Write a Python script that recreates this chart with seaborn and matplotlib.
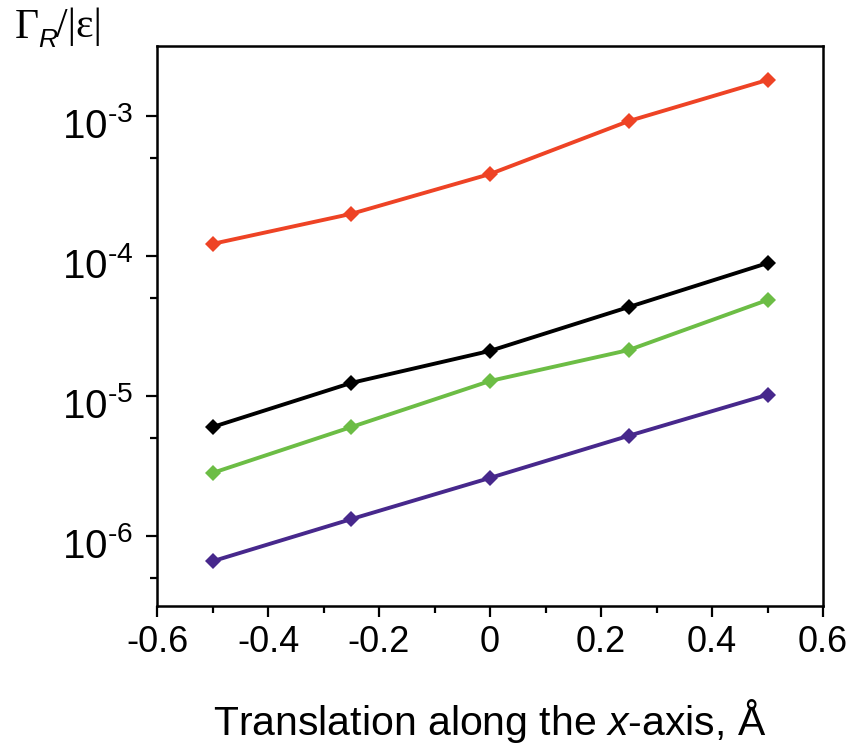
import numpy as np
import pandas as pd
import matplotlib
matplotlib.use("Agg")
import matplotlib.pyplot as plt
import matplotlib.ticker as mticker
import matplotlib.transforms as mtransforms
import seaborn as sns

# ---- data ----
x_vals = [-0.5, -0.25, 0.0, 0.25, 0.5]
red_vals = [1.22e-4, 2.0e-4, 3.85e-4, 9.2e-4, 1.81e-3]
black_vals = [6.0e-6, 1.24e-5, 2.1e-5, 4.32e-5, 8.9e-5]
green_vals = [2.82e-6, 6.0e-6, 1.28e-5, 2.13e-5, 4.85e-5]
purple_vals = [6.6e-7, 1.32e-6, 2.6e-6, 5.2e-6, 1.02e-5]
series_names = ["red", "black", "green", "purple"]
series_colors = ["#EE4325", "#000000", "#6CBD45", "#47288C"]
x_ticks = [-0.6, -0.4, -0.2, 0, 0.2, 0.4, 0.6]
x_tick_labels = ["-0.6", "-0.4", "-0.2", "0", "0.2", "0.4", "0.6"]
y_ticks = [1e-6, 1e-5, 1e-4, 1e-3]
y_exps = ["6", "5", "4", "3"]

df = pd.DataFrame({
    "x": x_vals * 4,
    "y": red_vals + black_vals + green_vals + purple_vals,
    "series": sum([[n] * len(x_vals) for n in series_names], []),
})

sns.set_style("ticks")
plt.rcParams["font.family"] = ["Liberation Sans", "DejaVu Sans"]
plt.rcParams["mathtext.fontset"] = "custom"
plt.rcParams["mathtext.rm"] = "Liberation Sans"
plt.rcParams["mathtext.it"] = "Liberation Sans:italic"
plt.rcParams["text.color"] = "black"

fig = plt.figure(figsize=(8.47, 7.47), dpi=100)
ax = fig.add_axes([157 / 847, 1 - 606 / 747, (823 - 157) / 847, (606 - 46) / 747])

sns.lineplot(data=df, x="x", y="y", hue="series", hue_order=series_names,
             palette=dict(zip(series_names, series_colors)), marker="D",
             markersize=8.5, markeredgewidth=0, linewidth=2.8, ax=ax, legend=False)

ax.set_yscale("log")
ax.set_xlim(-0.6, 0.6)
ax.set_ylim(10 ** -6.5, 10 ** -2.5)

ax.set_xticks(x_ticks)
ax.set_xticklabels(x_tick_labels)
ax.xaxis.set_minor_locator(mticker.MultipleLocator(0.1))

ax.set_yticks(y_ticks)
ax.set_yticklabels(["$\\mathregular{10^{\u2010" + e + "}}$" for e in y_exps])
ax.yaxis.set_minor_locator(mticker.FixedLocator([5e-7, 5e-6, 5e-5, 5e-4, 5e-3]))
ax.yaxis.set_minor_formatter(mticker.NullFormatter())

for s in ax.spines.values():
    s.set_linewidth(1.8)
    s.set_color("black")
ax.tick_params(axis="both", which="major", direction="out", length=8, width=1.6,
               colors="black", pad=6)
ax.tick_params(axis="x", which="major", labelsize=26)
ax.tick_params(axis="y", which="major", labelsize=29, pad=9)
ax.tick_params(axis="both", which="minor", direction="out", length=5, width=1.6,
               colors="black")

offset = mtransforms.ScaledTranslation(0, -6 / 100, fig.dpi_scale_trans)
for lbl in ax.get_yticklabels():
    lbl.set_transform(lbl.get_transform() + offset)

ax.set_xlabel("Translation along the $\\mathit{x}$-axis, Å", fontsize=29.5, labelpad=26,
              color="black")
ax.set_ylabel("")

fig.text(15 / 847, 1 - 8 / 747, "Γ", family="Liberation Serif", fontsize=30,
         va="top", ha="left")
fig.text(38 / 847, 1 - 28 / 747, "R", family="Liberation Sans", style="italic",
         fontsize=19, va="top", ha="left")
fig.text(56 / 847, 1 - 8 / 747, "/|ε|", family="Liberation Serif", fontsize=30,
         va="top", ha="left")

fig.savefig("out.png", dpi=100)
